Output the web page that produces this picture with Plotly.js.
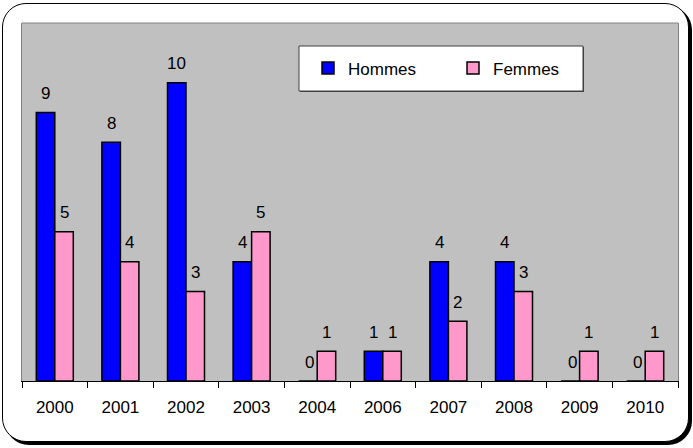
<!DOCTYPE html>
<html>
<head>
<meta charset="utf-8">
<script src="https://cdn.plot.ly/plotly-3.0.1.min.js"></script>
<style>
  html, body { margin: 0; padding: 0; background: #ffffff; }
  #wrap { position: relative; width: 693px; height: 448px; overflow: hidden; }
  #frame { position: absolute; left: 2px; top: 3px; width: 685px; height: 437px;
           border: 1px solid #000; border-radius: 24px; box-shadow: 3px 3px 0 #000; background: #fff; }
  #chart { position: absolute; left: 0; top: 0; width: 693px; height: 448px; }
</style>
</head>
<body>
<div id="wrap">
  <div id="frame"></div>
  <div id="chart"></div>
</div>
<script>
const years = ['2000','2001','2002','2003','2004','2006','2007','2008','2009','2010'];
const hommes = [9, 8, 10, 4, 0, 1, 4, 4, 0, 0];
const femmes = [5, 4, 3, 5, 1, 1, 2, 3, 1, 1];
const seriesNames = ['Hommes', 'Femmes'];

const FONT = 'Liberation Sans, Arial, sans-serif';
const W = 693, H = 448;
const M = {l: 22, r: 15, t: 23, b: 67};
const plotW = W - M.l - M.r, plotH = H - M.t - M.b;
const bargap = 0.436;
const barPx = (plotW / years.length) * (1 - bargap) / 2;

const traces = [
  {type: 'bar', name: seriesNames[0], x: years, y: hommes,
   marker: {color: '#0000ff', line: {color: '#000000', width: 1.5}}, hoverinfo: 'none'},
  {type: 'bar', name: seriesNames[1], x: years, y: femmes,
   marker: {color: '#ff99cc', line: {color: '#000000', width: 1.5}}, hoverinfo: 'none'}
];

const annotations = [];
[hommes, femmes].forEach((vals, s) => {
  vals.forEach((v, i) => {
    annotations.push({
      x: i, y: v, xref: 'x', yref: 'y', text: String(v), showarrow: false,
      xanchor: 'center', yanchor: 'middle',
      xshift: (s === 0 ? -1 : 1) * barPx / 2 + (v === 0 ? 2 : 0), yshift: 19,
      font: {family: FONT, size: 17, color: '#000000'}
    });
  });
});

const px2x = p => (p - M.l) / plotW;
const py2y = p => (H - M.b - p) / plotH;

const layout = {
  width: W, height: H,
  margin: M,
  paper_bgcolor: 'rgba(0,0,0,0)',
  plot_bgcolor: '#c0c0c0',
  barmode: 'group', bargap: bargap, bargroupgap: 0,
  font: {family: FONT, size: 17, color: '#000000'},
  showlegend: true,
  legend: {
    orientation: 'h', x: px2x(308), xanchor: 'left', y: py2y(68.5), yanchor: 'middle',
    bgcolor: 'rgba(0,0,0,0)', borderwidth: 0, entrywidth: 100, entrywidthmode: 'pixels',
    font: {family: FONT, size: 17, color: '#000000'}, traceorder: 'normal'
  },
  xaxis: {
    type: 'category', range: [-0.5, years.length - 0.5], autorange: false,
    showgrid: false, zeroline: false,
    showline: true, linecolor: '#000000', linewidth: 1,
    ticks: 'outside', tickson: 'boundaries', ticklen: 6, tickcolor: '#000000', tickwidth: 1,
    tickangle: 0,
    tickfont: {family: FONT, size: 17, color: '#000000'}, ticklabelstandoff: 11,
    fixedrange: true
  },
  yaxis: {
    range: [0, 12], autorange: false, showgrid: false, zeroline: false, showticklabels: false, ticks: '',
    showline: true, linecolor: '#808080', linewidth: 1, mirror: true, fixedrange: true
  },
  shapes: [
    {type: 'line', xref: 'paper', yref: 'paper', x0: 0, x1: 1, y0: 1, y1: 1,
     line: {color: '#808080', width: 1}, layer: 'above'},
    {type: 'rect', xref: 'paper', yref: 'paper', x0: px2x(300), x1: px2x(584), y0: py2y(92), y1: py2y(47),
     fillcolor: '#404040', line: {width: 0}, layer: 'above'},
    {type: 'rect', xref: 'paper', yref: 'paper', x0: px2x(299), x1: px2x(583), y0: py2y(91), y1: py2y(46),
     fillcolor: '#ffffff', line: {color: '#404040', width: 1}, layer: 'above'}
  ],
  annotations: annotations
};

Plotly.newPlot('chart', traces, layout, {displayModeBar: false, staticPlot: true});
</script>
</body>
</html>
